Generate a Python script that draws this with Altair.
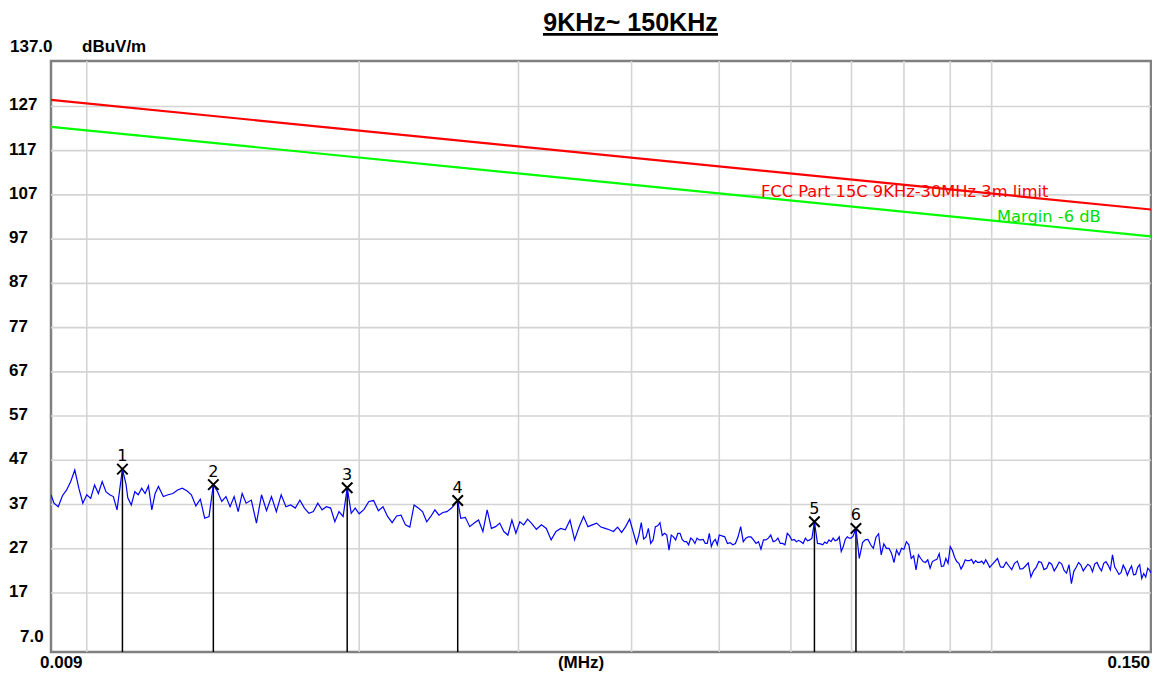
import altair as alt
import pandas as pd

# ---- data ----
trace_khz = [
    9.13, 9.2, 9.3, 9.4, 9.5, 9.6, 9.7, 9.8, 9.9, 10.0,
    10.1, 10.2, 10.3, 10.4, 10.5, 10.6, 10.7, 10.8, 10.95, 11.05,
    11.1, 11.2, 11.3, 11.4, 11.5, 11.6, 11.7, 11.8, 11.9, 12.0,
    12.15, 12.3, 12.45, 12.6, 12.75, 12.9, 13.05, 13.2, 13.35, 13.5,
    13.65, 13.8, 13.95, 14.1, 14.25, 14.4, 14.55, 14.7, 14.85, 15.0,
    15.2, 15.4, 15.6, 15.8, 16.0, 16.2, 16.4, 16.6, 16.8, 17.0,
    17.2, 17.4, 17.6, 17.8, 18.0, 18.2, 18.4, 18.6, 18.8, 19.0,
    19.2, 19.4, 19.6, 19.8, 20.0, 20.25, 20.5, 20.75, 21.0, 21.25,
    21.5, 21.75, 22.0, 22.25, 22.5, 22.75, 23.0, 23.25, 23.5, 23.75,
    24.0, 24.25, 24.5, 24.75, 25.0, 25.3, 25.7, 25.9, 26.2, 26.5,
    26.8, 27.1, 27.4, 27.7, 28.0, 28.3, 28.6, 28.9, 29.2, 29.5,
    29.8, 30.1, 30.4, 30.7, 31.0, 31.4, 31.8, 32.2, 32.6, 33.0,
    33.4, 33.8, 34.2, 34.6, 35.0, 35.4, 35.8, 36.2, 36.6, 37.0,
    37.4, 37.8, 38.2, 38.6, 39.0, 39.4, 39.8,
    40.5, 40.75, 41.0, 41.25, 41.5, 41.75, 42.0, 42.25, 42.5, 42.75,
    43.0, 43.25, 43.5, 43.75, 44.0, 44.25, 44.5, 44.75, 45.0, 45.25,
    45.5, 45.75, 46.0, 46.25, 46.5, 46.75, 47.0, 47.25, 47.5, 47.75,
    48.0, 48.25, 48.5, 48.75, 49.0, 49.25, 49.5, 49.75, 50.0, 50.7,
    51.05, 51.4, 51.75, 52.1, 52.45, 52.8, 53.15, 53.5, 53.85, 54.2,
    54.55, 54.9, 55.25, 55.6, 55.95, 56.3, 56.65, 57.0, 57.35, 57.7,
    58.05, 58.4, 58.75, 59.1, 59.45, 59.8, 60.15, 60.5, 60.85, 61.2,
    61.55, 61.9, 62.25, 62.6, 62.95, 63.3, 63.7, 64.2, 64.7, 65.05,
    65.4, 65.75, 66.1, 66.45, 66.8, 67.15, 67.5, 67.85, 68.2, 68.55,
    68.9, 69.25, 69.6, 69.95, 70.3, 70.8, 71.4, 72, 72.5, 73,
    73.5, 74, 74.5, 75, 75.5, 76, 76.5, 77, 77.5, 78,
    78.5, 79, 79.5, 80, 80.5, 81, 81.5, 82, 82.5, 83,
    83.5, 84, 84.5, 85, 85.5, 86, 86.5, 87, 87.5, 88,
    88.5, 89, 89.5, 90, 90.5, 91, 91.5, 92, 92.5, 93,
    93.5, 94, 94.5, 95, 95.5, 96, 96.5, 97, 97.5, 98,
    98.5, 99, 99.5, 100, 101.5, 102.25, 103, 103.75, 104.5, 105.25,
    106, 106.75, 107.5, 108.25, 109, 109.75, 110.5, 111.25, 112, 112.75,
    113.5, 114.25, 115, 115.75, 116.5, 117.25, 118, 118.75, 119.5, 120.25,
    121, 121.75, 122.5, 123.25, 124, 124.75, 125.5, 126.25, 127, 127.75,
    128.5, 129.25, 130, 130.75, 131.5, 132.25, 133, 133.75, 134.5, 135.25,
    136, 136.75, 137.5, 138.25, 139, 139.75, 140.5, 141.25, 142, 142.75,
    143.5, 144.25, 145, 145.75, 146.5, 147.25, 148, 148.75, 149.5, 150,
]
trace_dbuv = [
    39.2, 37.3, 36.5, 39.0, 40.3, 42.2, 44.8, 40.7, 37.3, 39.2,
    38.4, 41.4, 39.5, 42.2, 39.9, 39.2, 38.8, 35.8, 45.0, 41.6,
    38.5, 36.9, 39.9, 39.2, 40.7, 39.5, 41.2, 35.8, 39.5, 41.1,
    38.8, 39.2, 39.5, 40.3, 40.7, 40.1, 39.2, 36.7, 38.2, 33.9,
    34.3, 41.5, 39.9, 37.7, 38.8, 36.5, 38.8, 35.4, 39.5, 37.3,
    38.0, 32.8, 39.2, 35.6, 38.8, 35.4, 39.2, 36.5, 36.9, 36.2,
    38.0, 36.2, 35.0, 35.4, 37.3, 35.8, 36.5, 36.2, 33.1, 35.4,
    34.3, 40.8, 35.0, 36.2, 34.9, 35.9, 37.7, 37.9, 35.6, 36.5,
    34.3, 32.9, 34.4, 34.6, 32.4, 31.9, 36.9, 36.2, 35.4, 33.1,
    34.3, 35.8, 34.6, 35.2, 35.4, 36.2, 37.9, 33.9, 34.1, 32.0,
    32.8, 33.5, 30.9, 35.8, 31.6, 32.0, 32.8, 30.9, 30.1, 33.5,
    30.5, 33.1, 32.4, 33.7, 32.8, 31.4, 32.4, 31.6, 29.0, 30.9,
    31.6, 31.3, 33.5, 29.0, 31.9, 34.3, 32.0, 32.4, 32.8, 31.9,
    31.6, 31.3, 30.9, 31.9, 30.7, 32.0, 33.7,
    28.2, 30.1, 32.9, 29.2, 29.7, 31.6, 28.2, 29.0, 32.0, 32.2,
    32.9, 30.0, 30.5, 30.1, 26.7, 30.1, 29.7, 29.0, 30.5, 30.5,
    29.1, 28.6, 28.6, 27.9, 29.4, 29.0, 28.2, 29.4, 29.0, 29.0,
    29.1, 28.2, 28.2, 30.5, 27.5, 28.6, 29.1, 27.9, 30.1, 29.7,
    28.2, 28.4, 27.9, 28.2, 29.7, 32.0, 28.6, 29.4, 29.7, 29.7,
    29.0, 28.2, 28.6, 26.9, 29.0, 29.0, 29.4, 30.1, 28.6, 28.8,
    29.4, 28.2, 28.2, 27.9, 30.5, 29.9, 28.9, 29.1, 28.6, 28.9,
    28.6, 28.2, 29.4, 28.8, 29.0, 29.4, 33.1, 28.2, 28.1, 27.9,
    28.5, 28.2, 29.0, 28.6, 29.4, 28.8, 29.0, 29.7, 26.4, 27.5,
    29.1, 29.7, 29.4, 29.4, 29.9, 31.6, 24.8, 28.4, 29.0, 29.1,
    27.9, 27.1, 29.6, 30.4, 25.6, 28.1, 27.1, 27.1, 26.0, 23.9,
    26.7, 25.6, 27.1, 26.9, 28.6, 27.9, 24.8, 25.4, 22.2, 25.6,
    24.8, 24.1, 23.9, 24.5, 22.6, 24.1, 24.4, 24.6, 25.9, 23.0,
    23.1, 24.8, 23.7, 27.5, 26.6, 25.1, 24.1, 23.7, 22.4, 23.3,
    24.5, 24.3, 24.3, 24.6, 23.7, 24.3, 23.9, 23.9, 24.2, 23.6,
    24.5, 23.7, 22.8, 23.3, 24.8, 22.9, 22.8, 24.0, 23.1, 22.3,
    23.7, 24.2, 22.4, 22.5, 23.1, 23.8, 20.6, 22.0, 22.8, 24.1,
    23.9, 22.3, 22.6, 23.9, 23.5, 22.0, 22.9, 24.0, 23.6, 22.1,
    21.5, 23.4, 19.1, 21.9, 22.8, 23.9, 23.3, 22.0, 22.8, 23.5,
    23.1, 21.8, 23.6, 23.9, 22.8, 22.0, 23.7, 24.1, 23.3, 22.2,
    25.6, 22.9, 22.1, 21.2, 21.6, 23.3, 22.4, 21.0, 22.2, 23.1,
    21.1, 21.2, 22.8, 23.4, 20.3, 21.4, 20.6, 22.6, 22.1, 21.5,
]

limit_khz = [9.13, 150.0]
limit_dbuv = [128.5, 103.7]
margin_dbuv = [122.4, 97.6]

marker_no = ["1", "2", "3", "4", "5", "6"]
marker_khz = [10.95, 13.8, 19.4, 25.7, 63.7, 70.8]
marker_dbuv = [45.0, 41.5, 40.8, 37.9, 33.1, 31.6]

ytick_values = [127, 117, 107, 97, 87, 77, 67, 57, 47, 37, 27, 17]
ytick_labels = ["127", "117", "107", "97", "87", "77", "67", "57", "47", "37", "27", "17"]
xgrid_khz = [10, 20, 30, 40, 50, 60, 70, 80, 90, 100]

Y_MIN, Y_MAX = 3.66, 137.27
F_MIN, F_MAX = 0.00913, 0.150

W, H = 1100, 591

# ---- tables ----
trace = pd.DataFrame({"f": [k / 1000 for k in trace_khz], "v": trace_dbuv})
limit = pd.DataFrame({"f": [k / 1000 for k in limit_khz], "v": limit_dbuv})
margin = pd.DataFrame({"f": [k / 1000 for k in limit_khz], "v": margin_dbuv})
markers = pd.DataFrame({"f": [k / 1000 for k in marker_khz], "v": marker_dbuv, "n": marker_no})
ygrid = pd.DataFrame({"v": ytick_values, "t": ytick_labels})
xgrid = pd.DataFrame({"f": [k / 1000 for k in xgrid_khz]})
one = pd.DataFrame({"a": [0]})

xs = alt.Scale(type="log", domain=[F_MIN, F_MAX], nice=False)
ys = alt.Scale(domain=[Y_MIN, Y_MAX], nice=False, zero=False)
X = alt.X("f:Q", scale=xs, axis=None)
Y = alt.Y("v:Q", scale=ys, axis=None)

GRID = "#d4d4d4"
LBL_FONT = "Liberation Sans"

xg = alt.Chart(xgrid).mark_rule(color=GRID, strokeWidth=1.6).encode(x=X)
yg = alt.Chart(ygrid).mark_rule(color=GRID, strokeWidth=1.6).encode(y=Y)

red = alt.Chart(limit).mark_line(color="#ff0000", strokeWidth=2.2, clip=True).encode(x=X, y=Y)
green = alt.Chart(margin).mark_line(color="#00ff00", strokeWidth=2.2, clip=True).encode(x=X, y=Y)

mrule = alt.Chart(markers).mark_rule(color="black", strokeWidth=1.5).encode(
    x=X, y=Y, y2=alt.datum(Y_MIN)
)
line = alt.Chart(trace).mark_line(color="#0000ff", strokeWidth=1.2, clip=True).encode(x=X, y=Y)

mx = alt.Chart(markers).mark_point(
    shape="M-1,-1L1,1M1,-1L-1,1", size=110, filled=False, color="black", strokeWidth=2, opacity=1
).encode(x=X, y=Y)
mnum = alt.Chart(markers).mark_text(
    font="DejaVu Sans", fontSize=16, color="black", baseline="alphabetic", align="center", dy=-8
).encode(x=X, y=Y, text="n:N")

ylab = alt.Chart(ygrid).mark_text(
    font=LBL_FONT, fontSize=17, fontWeight="bold", color="black", align="left", baseline="alphabetic", dy=4
).encode(y=Y, x=alt.value(-42), text="t:N")


def txt(s, x, y, align="left", size=17, weight="bold", color="black", font=LBL_FONT):
    return alt.Chart(one).mark_text(
        text=s, font=font, fontSize=size, fontWeight=weight, color=color,
        align=align, baseline="alphabetic"
    ).encode(x=alt.value(x), y=alt.value(y))


y7 = txt("7.0", -31, 580.5)
ytop = txt("137.0", -41, -9)
yunit = txt("dBuV/m", 31, -9)
x0 = txt("0.009", -11, 607)
xunit = txt("(MHz)", 530, 607, align="center")
x1 = txt("0.150", 1099, 607, align="right")
title = txt("9KHz~ 150KHz", 579.5, -30.4, align="center", size=25)
underline = alt.Chart(one).mark_rule(color="black", strokeWidth=2.6).encode(
    x=alt.value(492), x2=alt.value(667), y=alt.value(-26.6)
)
lim_txt = txt("FCC Part 15C 9KHz-30MHz 3m limit", 710, 135.7, size=16.3, weight="normal",
              color="#ff0000", font="DejaVu Sans")
mar_txt = txt("Margin -6 dB", 946, 160.7, size=16.3, weight="normal",
              color="#00dd00", font="DejaVu Sans")

chart = alt.layer(
    xg, yg, red, green, mrule, line, mx, mnum, ylab,
    y7, ytop, yunit, x0, xunit, x1, title, underline, lim_txt, mar_txt,
).properties(
    width=W, height=H,
    autosize=alt.AutoSizeParams(type="none"),
    padding={"left": 43, "top": 53, "right": 1, "bottom": 19},
    background="white",
).configure_view(stroke="#808080", strokeWidth=2.5)

chart.save("out.html", embed_options={"renderer": "svg", "actions": False})
